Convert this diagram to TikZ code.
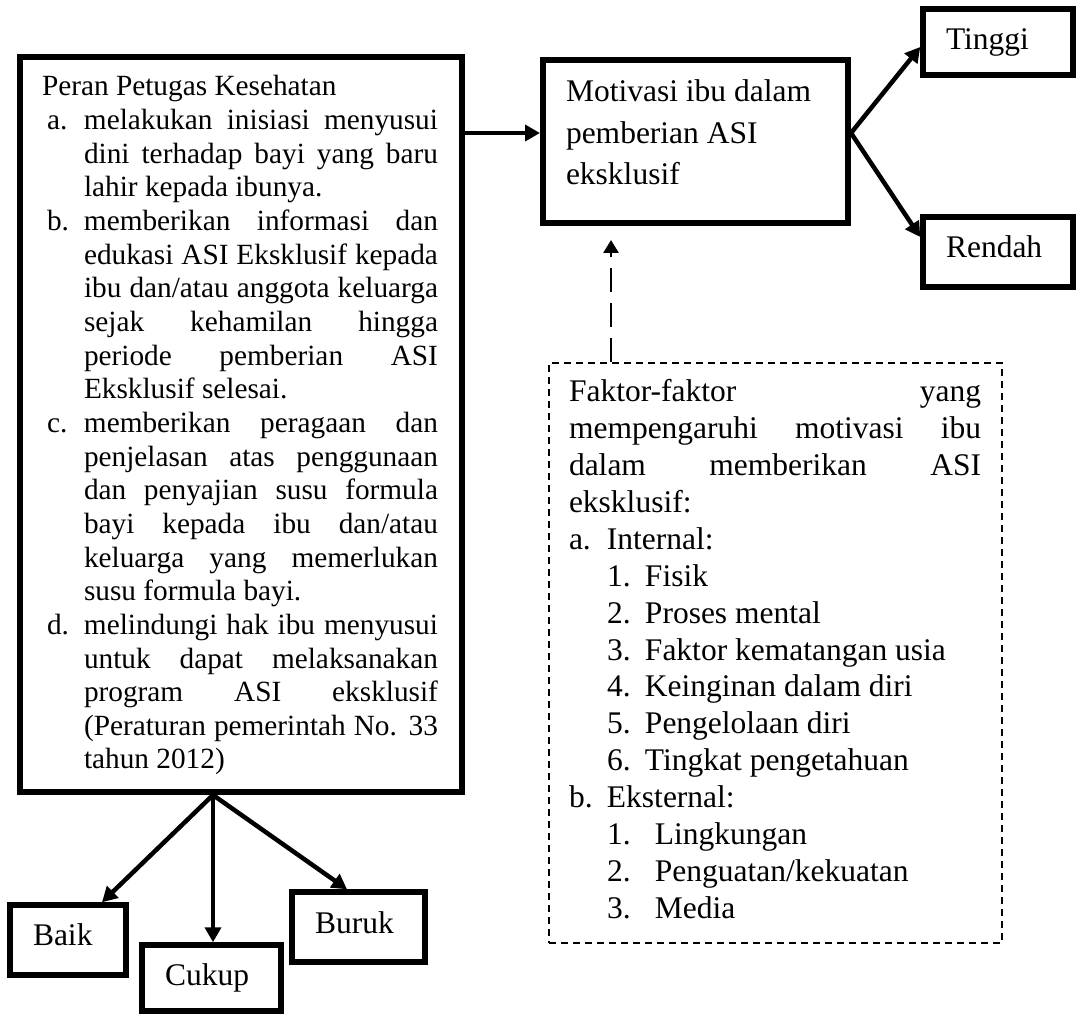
\documentclass[tikz,border=0pt]{standalone}
\usepackage{fontspec}
\setmainfont{Liberation Serif}
\usetikzlibrary{arrows.meta,calc}
\newlength\labw \newlength\txtw \newlength\labx
\newcommand\jrow[2]{\hbox{\hbox to\labw{\hskip\labx #1\hfil}\hbox to\txtw{#2}}}
\newcommand\lrow[2]{\hbox{\hbox to\labw{\hskip\labx #1\hfil}#2}}
\begin{document}
\begin{tikzpicture}[x=1pt,y=-1pt,
 bigbox/.style={draw, line width=6pt, inner sep=0pt},
 smallbox/.style={draw, line width=5.5pt, inner sep=0pt},
 dbox/.style={draw, line width=1.8pt, dash pattern=on 7pt off 5pt, inner sep=0pt},
 txt/.style={inner sep=0pt, outer sep=0pt, font=\fontsize{31.5pt}{36.9pt}\selectfont},
 ltxt/.style={inner sep=0pt, outer sep=0pt, font=\fontsize{29.3pt}{33.65pt}\selectfont},
 arr/.style={line width=4.5pt, -{Triangle[length=15pt,width=16pt]}},
 darr/.style={line width=2.7pt, dash pattern=on 24pt off 11pt, -{Triangle[length=13pt,width=15pt]}}
]
\useasboundingbox (0,0) rectangle (1076,1016);
% boxes
\node[bigbox, minimum width=441.5pt, minimum height=734.5pt] (peran) at (240.75,424.75) {};
\node[bigbox, minimum width=305pt, minimum height=163pt] (mot) at (695.5,141.5) {};
\node[smallbox, minimum width=150pt, minimum height=66pt] (tinggi) at (998,42) {};
\node[smallbox, minimum width=150pt, minimum height=70pt] (rendah) at (998,252) {};
\node[smallbox, minimum width=116pt, minimum height=70pt] (baik) at (68,940) {};
\node[smallbox, minimum width=139pt, minimum height=66pt] (cukup) at (211.5,978) {};
\node[smallbox, minimum width=133pt, minimum height=70pt] (buruk) at (358.5,927) {};
\node[dbox, minimum width=453pt, minimum height=580pt] (fak) at (775.5,653) {};
% texts
\node[txt, anchor=base west] (ttinggi) at (946,50) {Tinggi};
\node[txt, anchor=base west] (trendah) at (946,258) {Rendah};
\node[txt, anchor=base west] (tbaik) at (33,945) {Baik};
\node[txt, anchor=base west] (tcukup) at (165,985) {Cukup};
\node[txt, anchor=base west] (tburuk) at (315,933) {Buruk};
\node[txt, anchor=base west, font=\fontsize{31.5pt}{41.5pt}\selectfont] (tmot) at (566,102)
 {\parbox[t]{280pt}{\lineskiplimit=-100pt
 \hbox{Motivasi ibu dalam}
 \hbox{pemberian ASI}
 \hbox{eksklusif}}};
\node[ltxt, anchor=base west] (tperan) at (42,96)
 {\setlength\labw{42pt}\setlength\labx{5pt}\setlength\txtw{354pt}%
 \parbox[t]{396pt}{\lineskiplimit=-100pt
 \hbox{Peran Petugas Kesehatan}
 \jrow{a.}{melakukan inisiasi menyusui}
 \jrow{}{dini terhadap bayi yang baru}
 \lrow{}{lahir kepada ibunya.}
 \jrow{b.}{memberikan informasi dan}
 \jrow{}{edukasi ASI Eksklusif kepada}
 \jrow{}{ibu dan/atau anggota keluarga}
 \jrow{}{sejak kehamilan hingga}
 \jrow{}{periode pemberian ASI}
 \lrow{}{Eksklusif selesai.}
 \jrow{c.}{memberikan peragaan dan}
 \jrow{}{penjelasan atas penggunaan}
 \jrow{}{dan penyajian susu formula}
 \jrow{}{bayi kepada ibu dan/atau}
 \jrow{}{keluarga yang memerlukan}
 \lrow{}{susu formula bayi.}
 \jrow{d.}{melindungi hak ibu menyusui}
 \jrow{}{untuk dapat melaksanakan}
 \jrow{}{program ASI eksklusif}
 \jrow{}{(Peraturan pemerintah No. 33}
 \lrow{}{tahun 2012)}}};
\node[txt, anchor=base west] (tfak) at (569,401.7)
 {\parbox[t]{420pt}{\lineskiplimit=-100pt
 \hbox to 412pt{Faktor-faktor yang}
 \hbox to 412pt{mempengaruhi motivasi ibu}
 \hbox to 412pt{dalam memberikan ASI}
 \hbox{eksklusif:}
 \hbox{\hbox to 38pt{a.\hfil}Internal:}
 \hbox{\hskip38pt\hbox to 38pt{1.\hfil}Fisik}
 \hbox{\hskip38pt\hbox to 38pt{2.\hfil}Proses mental}
 \hbox{\hskip38pt\hbox to 38pt{3.\hfil}Faktor kematangan usia}
 \hbox{\hskip38pt\hbox to 38pt{4.\hfil}Keinginan dalam diri}
 \hbox{\hskip38pt\hbox to 38pt{5.\hfil}Pengelolaan diri}
 \hbox{\hskip38pt\hbox to 38pt{6.\hfil}Tingkat pengetahuan}
 \hbox{\hbox to 38pt{b.\hfil}Eksternal:}
 \hbox{\hskip38pt\hbox to 48pt{1.\hfil}Lingkungan}
 \hbox{\hskip38pt\hbox to 48pt{2.\hfil}Penguatan/kekuatan}
 \hbox{\hskip38pt\hbox to 48pt{3.\hfil}Media}}};
% connectors
\coordinate (min) at ([yshift=8.5pt]mot.west);
\draw[arr] (peran.east |- min) -- (min);
\coordinate (mo) at ([yshift=8.5pt]mot.east);
\coordinate (ti) at ([yshift=-5pt]tinggi.west);
\coordinate (ri) at ([yshift=15pt]rendah.west);
\draw[arr] (mo) -- (ti);
\draw[arr] (mo) -- (ri);
\coordinate (dtip) at (611,240);
\draw[darr] (fak.north -| dtip) -- (dtip);
\coordinate (po) at ([xshift=-27.75pt]peran.south);
\coordinate (bk) at (102,0);
\coordinate (bu) at (347,0);
\draw[arr] (po) -- (baik.north -| bk);
\draw[arr] (po) -- (cukup.north -| po);
\draw[arr] (po) -- (buruk.north -| bu);
\end{tikzpicture}
\end{document}
